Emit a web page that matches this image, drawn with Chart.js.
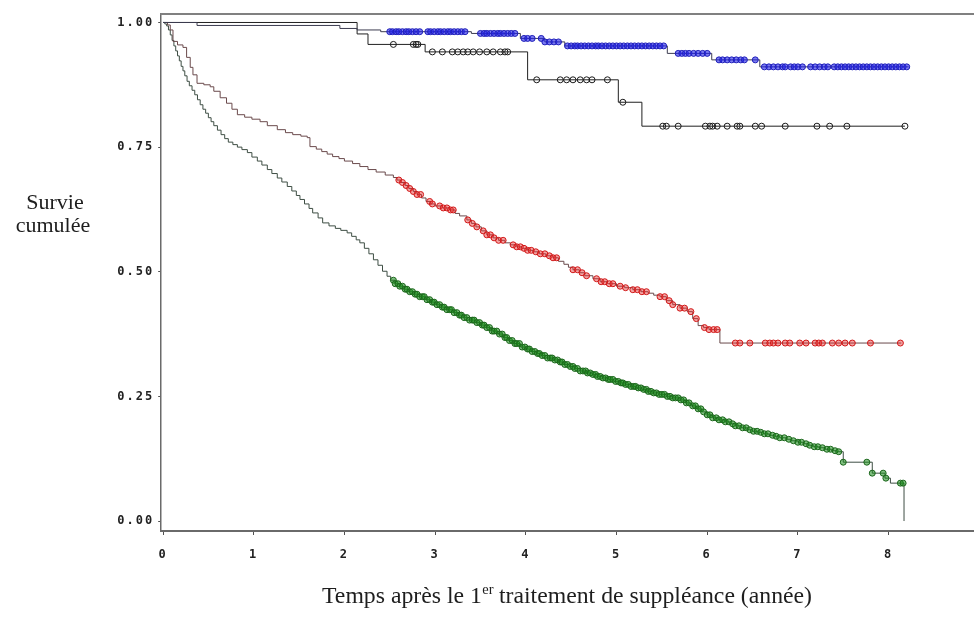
<!DOCTYPE html>
<html lang="fr">
<head>
<meta charset="utf-8">
<title>Survie cumulée</title>
<script src="https://cdn.jsdelivr.net/npm/chart.js@4.4.1/dist/chart.umd.min.js"></script>
<style>
  html, body { margin: 0; padding: 0; background: #ffffff; overflow: hidden; }
  #wrap { position: relative; width: 997px; height: 621px; }
</style>
</head>
<body>
<div id="wrap"><canvas id="km"></canvas></div>
<script>
// Graduations des axes
const xTicks = [0, 1, 2, 3, 4, 5, 6, 7, 8, 9];
const yTicks = [0, 0.25, 0.5, 0.75, 1];

// Courbe bleue : instants des décès et survie estimée après chaque décès
const blueTimes = [0, 0.375, 1.95, 2.14, 2.40, 3.40, 3.94, 4.21, 4.43, 5.56, 6.05, 6.58, 8.22];
const blueSurv  = [1, 0.994, 0.988, 0.985, 0.9815, 0.978, 0.968, 0.961, 0.953, 0.938, 0.925, 0.911, 0.911];
const blueCensor = [2.50, 2.53, 2.57, 2.60, 2.64, 2.68, 2.71, 2.75, 2.79, 2.83,
  2.92, 2.95, 2.99, 3.03, 3.06, 3.10, 3.14, 3.17, 3.21, 3.25, 3.29, 3.33,
  3.50, 3.54, 3.57, 3.61, 3.65, 3.69, 3.72, 3.76, 3.80, 3.84, 3.88,
  3.98, 4.02, 4.07, 4.17, 4.21, 4.26, 4.31, 4.36,
  4.46, 4.50, 4.54, 4.57, 4.61, 4.65, 4.69, 4.73, 4.77, 4.80, 4.84, 4.88, 4.92, 4.96,
  5.00, 5.04, 5.08, 5.12, 5.16, 5.20, 5.24, 5.28, 5.32, 5.36, 5.40, 5.44, 5.48, 5.52,
  5.68, 5.72, 5.76, 5.80, 5.85, 5.90, 5.95, 6.00,
  6.13, 6.17, 6.22, 6.27, 6.32, 6.37, 6.41, 6.53,
  6.63, 6.68, 6.73, 6.78, 6.83, 6.86, 6.92, 6.96, 7.00, 7.05,
  7.14, 7.19, 7.24, 7.29, 7.33,
  7.40, 7.44, 7.48, 7.52, 7.56, 7.60, 7.64, 7.68, 7.72, 7.76, 7.80, 7.84, 7.88,
  7.92, 7.96, 8.00, 8.04, 8.08, 8.12, 8.16, 8.20];

// Courbe noire
const blackTimes = [0, 2.14, 2.26, 2.89, 4.02, 5.02, 5.28, 8.18];
const blackSurv  = [1, 0.977, 0.956, 0.941, 0.885, 0.840, 0.792, 0.792];
const blackCensor = [2.54, 2.76, 2.79, 2.81,
  2.97, 3.08, 3.19, 3.25, 3.31, 3.36, 3.42, 3.49, 3.57, 3.64, 3.72, 3.77, 3.80,
  4.12, 4.38, 4.45, 4.52, 4.60, 4.67, 4.73, 4.90, 5.07,
  5.51, 5.55, 5.68, 5.98, 6.03, 6.06, 6.11, 6.22, 6.33, 6.36, 6.53, 6.60,
  6.86, 7.21, 7.35, 7.54, 8.18];

// Courbe rouge
const redTimes = [0, 0.05, 0.08, 0.11, 0.16, 0.22, 0.26, 0.30, 0.33, 0.375, 0.45, 0.52, 0.56, 0.63, 0.70,
  0.76, 0.82, 0.90, 0.98, 1.07, 1.15, 1.26, 1.35, 1.43, 1.52, 1.59, 1.62, 1.69, 1.75, 1.81, 1.87,
  1.94, 2.00, 2.09, 2.17, 2.26, 2.35, 2.45, 2.54, 2.58, 2.62, 2.67, 2.71, 2.76, 2.80, 2.85, 2.90,
  2.95, 3.00, 3.08, 3.16, 3.22, 3.27, 3.35, 3.40, 3.45, 3.51, 3.57, 3.64, 3.70, 3.77, 3.83, 3.90,
  3.95, 4.02, 4.08, 4.15, 4.22, 4.30, 4.36, 4.42, 4.47, 4.52, 4.59, 4.65, 4.74, 4.82, 4.90, 5.00,
  5.09, 5.18, 5.27, 5.35, 5.41, 5.48, 5.55, 5.62, 5.70, 5.78, 5.84, 5.90, 5.96, 6.02, 6.14, 8.14];
const redSurv = [1, 0.995, 0.985, 0.962, 0.955, 0.950, 0.930, 0.910, 0.895, 0.878, 0.875, 0.871, 0.862, 0.849, 0.838,
  0.826, 0.815, 0.810, 0.806, 0.801, 0.793, 0.785, 0.779, 0.775, 0.772, 0.769, 0.751, 0.746, 0.741, 0.736, 0.731,
  0.727, 0.722, 0.717, 0.711, 0.705, 0.700, 0.694, 0.689, 0.684, 0.679, 0.673, 0.667, 0.661, 0.655, 0.648, 0.641,
  0.636, 0.632, 0.628, 0.624, 0.617, 0.612, 0.604, 0.597, 0.590, 0.582, 0.574, 0.568, 0.563, 0.558, 0.554, 0.550,
  0.547, 0.543, 0.540, 0.536, 0.532, 0.528, 0.521, 0.515, 0.509, 0.504, 0.498, 0.492, 0.486, 0.480, 0.476, 0.471,
  0.468, 0.464, 0.460, 0.457, 0.453, 0.450, 0.442, 0.434, 0.427, 0.420, 0.406, 0.392, 0.388, 0.384, 0.357, 0.357];
const redCensor = [2.60, 2.64, 2.68, 2.72, 2.76, 2.80, 2.84, 2.94, 2.97,
  3.05, 3.09, 3.13, 3.17, 3.20, 3.36, 3.41, 3.46, 3.53, 3.57, 3.61, 3.65, 3.70, 3.75,
  3.86, 3.90, 3.94, 3.98, 4.02, 4.06, 4.11, 4.16, 4.21, 4.26, 4.30, 4.34,
  4.52, 4.57, 4.62, 4.67, 4.78, 4.83, 4.87, 4.92, 4.96, 5.04, 5.10,
  5.18, 5.23, 5.28, 5.33, 5.48, 5.53, 5.58, 5.62, 5.70, 5.75, 5.82, 5.88,
  5.97, 6.02, 6.07, 6.11,
  6.31, 6.36, 6.47, 6.64, 6.69, 6.73, 6.78, 6.86, 6.91, 7.02, 7.09, 7.19, 7.23, 7.27,
  7.38, 7.45, 7.52, 7.60, 7.80, 8.13];

// Courbe verte
const greenTimes = [0, 0.02, 0.04, 0.06, 0.08, 0.10, 0.12, 0.14, 0.16, 0.18, 0.20, 0.22, 0.24, 0.265,
  0.29, 0.32, 0.35, 0.38, 0.41, 0.44, 0.47, 0.50, 0.53, 0.56, 0.60, 0.64, 0.68, 0.72, 0.77, 0.82,
  0.87, 0.93, 0.98, 1.04, 1.09, 1.15, 1.20, 1.26, 1.31, 1.37, 1.42, 1.47, 1.51, 1.56, 1.61, 1.65,
  1.71, 1.76, 1.83, 1.90, 1.96, 2.03, 2.08, 2.13, 2.17, 2.22, 2.27, 2.32, 2.37, 2.42, 2.47, 2.51,
  2.56, 2.61, 2.66, 2.71, 2.77, 2.83, 2.89, 2.95, 3.01, 3.07, 3.13, 3.20, 3.26, 3.32, 3.38, 3.44,
  3.50, 3.57, 3.63, 3.69, 3.75, 3.81, 3.87, 3.94, 4.00, 4.06, 4.12, 4.18, 4.24, 4.30, 4.36, 4.42,
  4.48, 4.54, 4.60, 4.67, 4.73, 4.79, 4.85, 4.91, 4.97, 5.04, 5.10, 5.16, 5.22, 5.28, 5.34, 5.40,
  5.47, 5.55, 5.62, 5.70, 5.76, 5.82, 5.88, 5.94, 6.00, 6.06, 6.12, 6.19, 6.25, 6.31, 6.37, 6.44,
  6.50, 6.56, 6.62, 6.68, 6.74, 6.80, 6.87, 6.93, 7.00, 7.06, 7.12, 7.17, 7.23, 7.30, 7.37, 7.43,
  7.50, 7.82, 7.96, 8.02, 8.17];
const greenSurv = [1, 0.997, 0.993, 0.985, 0.975, 0.964, 0.953, 0.943, 0.933, 0.923, 0.912, 0.903, 0.893, 0.882,
  0.873, 0.864, 0.855, 0.845, 0.835, 0.826, 0.818, 0.809, 0.801, 0.793, 0.784, 0.775, 0.767, 0.760, 0.755, 0.750,
  0.745, 0.739, 0.730, 0.722, 0.714, 0.705, 0.697, 0.688, 0.680, 0.671, 0.662, 0.653, 0.645, 0.636, 0.627, 0.618,
  0.608, 0.598, 0.592, 0.587, 0.583, 0.578, 0.571, 0.564, 0.558, 0.547, 0.536, 0.524, 0.513, 0.501, 0.491, 0.483,
  0.476, 0.471, 0.465, 0.460, 0.455, 0.450, 0.444, 0.439, 0.434, 0.429, 0.424, 0.418, 0.413, 0.408, 0.403, 0.398,
  0.393, 0.388, 0.381, 0.375, 0.368, 0.362, 0.356, 0.349, 0.345, 0.340, 0.336, 0.332, 0.327, 0.323, 0.319, 0.314,
  0.310, 0.306, 0.301, 0.297, 0.294, 0.290, 0.287, 0.284, 0.280, 0.277, 0.274, 0.270, 0.267, 0.264, 0.260, 0.257,
  0.254, 0.250, 0.247, 0.243, 0.237, 0.231, 0.225, 0.219, 0.213, 0.207, 0.203, 0.199, 0.195, 0.191, 0.187, 0.183,
  0.180, 0.178, 0.175, 0.172, 0.170, 0.167, 0.164, 0.161, 0.158, 0.155, 0.152, 0.149, 0.147, 0.144, 0.141, 0.139,
  0.118, 0.096, 0.086, 0.076, 0];
const greenCensor = [2.54, 2.56, 2.59, 2.61, 2.64, 2.67, 2.69, 2.72, 2.75, 2.78, 2.80, 2.83, 2.86, 2.88,
  2.91, 2.94, 2.97, 2.99, 3.02, 3.05, 3.08, 3.10, 3.13, 3.16, 3.18, 3.21, 3.24, 3.27, 3.29, 3.32,
  3.35, 3.38, 3.41, 3.43, 3.46, 3.49, 3.52, 3.54, 3.57, 3.60, 3.63, 3.65, 3.68, 3.71, 3.74, 3.77,
  3.79, 3.82, 3.85, 3.88, 3.90, 3.93, 3.96, 3.99, 4.02, 4.04, 4.07, 4.10, 4.13, 4.15, 4.18, 4.21,
  4.24, 4.27, 4.29, 4.32, 4.35, 4.38, 4.40, 4.43, 4.46, 4.49, 4.52, 4.54, 4.57, 4.60, 4.63, 4.66,
  4.68, 4.71, 4.74, 4.77, 4.79, 4.82, 4.85, 4.88, 4.91, 4.93, 4.96, 4.99, 5.02, 5.05, 5.07, 5.10,
  5.13, 5.16, 5.19, 5.21, 5.24, 5.27, 5.30, 5.33, 5.35, 5.38, 5.41, 5.44, 5.47, 5.50, 5.53, 5.56,
  5.59, 5.62, 5.65, 5.68, 5.71, 5.74, 5.77, 5.80, 5.84, 5.87, 5.90, 5.93, 5.96, 6.00, 6.03, 6.06,
  6.10, 6.13, 6.17, 6.20, 6.24, 6.28, 6.31, 6.35, 6.39, 6.43, 6.47, 6.51, 6.55, 6.59, 6.63, 6.67,
  6.72, 6.76, 6.80, 6.85, 6.90, 6.95, 7.00, 7.04, 7.09, 7.13, 7.18, 7.22, 7.27, 7.32, 7.36, 7.41,
  7.45, 7.50, 7.76, 7.82, 7.94, 7.97, 8.13, 8.16];

// Valeur de la fonction en escalier à l'instant t
function stepValue(times, surv, t) {
  let v = surv[0];
  for (let i = 0; i < times.length; i++) {
    if (times[i] <= t) v = surv[i]; else break;
  }
  return v;
}
const curvePoints = (times, surv) => times.map((t, i) => ({ x: t, y: surv[i] }));
const censorPoints = (times, surv, cens) => cens.map(t => ({ x: t, y: stepValue(times, surv, t) }));

// Escalier de Kaplan-Meier : palier horizontal puis chute verticale à chaque décès
function curveSet(times, surv, color) {
  return { type: 'line', data: curvePoints(times, surv), stepped: true, borderColor: color,
           borderWidth: 1, pointRadius: 0, fill: false, order: 2 };
}
function censorSet(times, surv, cens, stroke, fillCol) {
  return { type: 'line', data: censorPoints(times, surv, cens), showLine: false,
           pointStyle: 'circle', pointRadius: 3, pointBorderWidth: 1,
           pointBorderColor: stroke, pointBackgroundColor: fillCol, order: 1 };
}

const frameAndTitles = {
  id: 'frameAndTitles',
  beforeDraw(chart) {
    chart.ctx.letterSpacing = '2px';
  },
  afterDraw(chart) {
    const ctx = chart.ctx, a = chart.chartArea;
    ctx.letterSpacing = '0px';
    ctx.save();
    // cadre supérieur
    ctx.strokeStyle = '#808080';
    ctx.lineWidth = 2;
    ctx.beginPath();
    ctx.moveTo(a.left - 1, a.top);
    ctx.lineTo(a.right, a.top);
    ctx.stroke();

    // titre de l'axe vertical, sur deux lignes
    ctx.fillStyle = '#1e1e1e';
    ctx.font = '22px "Liberation Serif"';
    ctx.textAlign = 'center';
    ctx.textBaseline = 'alphabetic';
    ctx.fillText('Survie', 55, 209);
    ctx.fillText('cumulée', 53, 232);

    // titre de l'axe horizontal avec l'exposant « er »
    const p1 = 'Temps après le 1', sup = 'er', p2 = ' traitement de suppléance (année)';
    const big = '23px "Liberation Serif"', small = '14px "Liberation Serif"';
    ctx.textAlign = 'left';
    ctx.font = big;
    const w1 = ctx.measureText(p1).width, w3 = ctx.measureText(p2).width;
    ctx.font = small;
    const w2 = ctx.measureText(sup).width;
    const total = w1 + w2 + w3;
    const target = 490;
    ctx.translate(567 - target / 2, 603);
    ctx.scale(target / total, 1);
    ctx.font = big;
    ctx.fillText(p1, 0, 0);
    ctx.font = small;
    ctx.fillText(sup, w1 + 0.5, -9);
    ctx.font = big;
    ctx.fillText(p2, w1 + w2, 0);
    ctx.restore();
  }
};

const tickFont = { family: '"DejaVu Sans Mono", monospace', size: 12, weight: 'bold' };

new Chart(document.getElementById('km'), {
  type: 'line',
  data: {
    datasets: [
      curveSet(blueTimes, blueSurv, '#3c3c50'),
      curveSet(blackTimes, blackSurv, '#202020'),
      curveSet(redTimes, redSurv, '#6a4a4c'),
      curveSet(greenTimes, greenSurv, '#3e4e44'),
      censorSet(blueTimes, blueSurv, blueCensor, '#1f1fb8', 'rgba(35,35,235,0.6)'),
      censorSet(blackTimes, blackSurv, blackCensor, '#1a1a1a', 'rgba(255,255,255,0)'),
      censorSet(redTimes, redSurv, redCensor, '#d01818', 'rgba(235,50,50,0.45)'),
      censorSet(greenTimes, greenSurv, greenCensor, '#1b661b', 'rgba(25,140,25,0.55)')
    ]
  },
  options: {
    responsive: true,
    maintainAspectRatio: false,
    animation: false,
    layout: { padding: { top: 14, right: 17.7, left: 0, bottom: 0 } },
    plugins: { legend: { display: false }, tooltip: { enabled: false } },
    scales: {
      x: {
        type: 'linear',
        min: -0.02,
        max: 9,
        afterBuildTicks: s => { s.ticks = xTicks.map(v => ({ value: v })); },
        afterFit: s => { s.height = 90; },
        grid: { drawOnChartArea: false, drawTicks: true, tickLength: 4, color: '#505050' },
        border: { display: true, color: '#6a6a6a', width: 2 },
        ticks: { font: tickFont, color: '#222222', padding: 13, maxRotation: 0,
                 callback: v => String(v) }
      },
      y: {
        type: 'linear',
        min: -0.02,
        max: 1.017,
        afterBuildTicks: s => { s.ticks = yTicks.map(v => ({ value: v })); },
        afterFit: s => { s.width = 161.2; },
        grid: { drawOnChartArea: false, drawTicks: true, tickLength: 3, color: '#505050' },
        border: { display: true, color: '#6a6a6a', width: 1.5 },
        ticks: { font: tickFont, color: '#222222', padding: 4,
                 callback: v => Number(v).toFixed(2) }
      }
    }
  },
  plugins: [frameAndTitles]
});
</script>
</body>
</html>
